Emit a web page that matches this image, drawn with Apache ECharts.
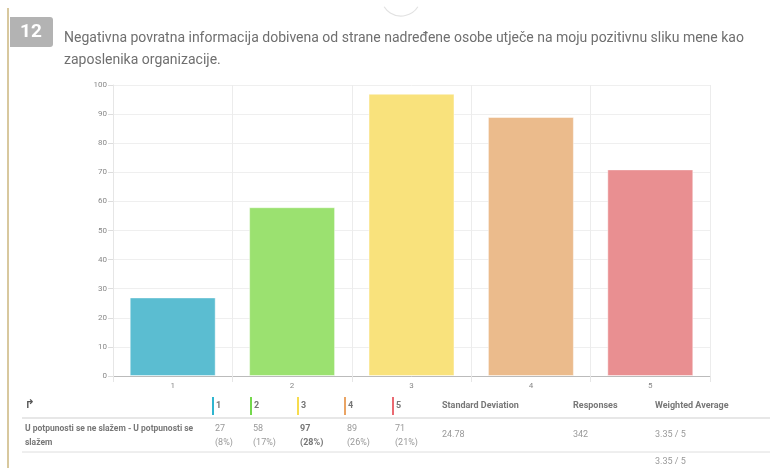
<!DOCTYPE html>
<html>
<head>
<meta charset="utf-8">
<script src="https://cdn.jsdelivr.net/npm/echarts@6/dist/echarts.min.js"></script>
<style>
  html, body { margin: 0; padding: 0; background: #fff; }
  #chart { width: 770px; height: 468px; }
</style>
</head>
<body>
<div id="chart"></div>
<script>
// question data
const questionNo = '12'
const questionText = 'Negativna povratna informacija dobivena od strane nadređene osobe utječe na moju pozitivnu sliku mene kao\nzaposlenika organizacije.'
const rowLabel = 'U potpunosti se ne slažem - U potpunosti se\nslažem'

const categories = ['1', '2', '3', '4', '5']
const counts = [27, 58, 97, 89, 71]
const yTicks = [0, 10, 20, 30, 40, 50, 60, 70, 80, 90, 100]

const barColors = ['#5bbdd1', '#9be170', '#f9e27c', '#ebbb8c', '#e98f91']
const keyColors = ['#2fb5cf', '#74d84c', '#f7dc4e', '#eaa464', '#ea6a72']

// stats
const total = counts.reduce((a, b) => a + b, 0)
const mean = total / counts.length
const stdDev = Math.sqrt(counts.reduce((s, v) => s + (v - mean) * (v - mean), 0) / counts.length)
const weighted = counts.reduce((s, v, i) => s + v * (i + 1), 0) / total
const maxVal = Math.max(...counts)

const font = 'Roboto, "Noto Sans", sans-serif'

let graphic = [
  // gold side line
  { type: 'line', shape: { x1: 8, y1: 8, x2: 8, y2: 468 }, style: { stroke: '#cbb67e', lineWidth: 1.5 } },
  // faint arc top centre
  { type: 'arc', shape: { cx: 401, cy: -4, r: 20, startAngle: Math.PI * 0.18, endAngle: Math.PI * 0.82 }, style: { stroke: '#e2e2e2', lineWidth: 1.2, fill: null } },
  // number badge
  { type: 'rect', shape: { x: 10, y: 17, width: 43, height: 30, r: [0, 3, 3, 0] }, style: { fill: '#b3b3b3' } },
  { type: 'text', x: 31, y: 32, style: { text: questionNo, font: 'bold 19px ' + font, fill: '#fff', align: 'center', verticalAlign: 'middle' } },
  { type: 'text', x: 64, y: 27, style: { text: questionText, font: '14px ' + font, fill: '#6f6f6f', lineHeight: 22 } },
  // table lines
  { type: 'line', shape: { x1: 22, y1: 418, x2: 770, y2: 418 }, style: { stroke: '#cfcfcf', lineWidth: 1 } },
  { type: 'line', shape: { x1: 22, y1: 452, x2: 770, y2: 452 }, style: { stroke: '#dedede', lineWidth: 1 } },
  // swap icon
  { type: 'text', x: 25, y: 405, style: { text: '↱', font: 'bold 12px "DejaVu Sans"', fill: '#555', verticalAlign: 'middle' } },
  { type: 'text', x: 25, y: 422, style: { text: rowLabel, font: 'bold 8.5px ' + font, fill: '#777', lineHeight: 14, verticalAlign: 'top' } }
]

const colX = [212, 250, 297, 344, 392]
categories.forEach((c, i) => {
  graphic.push({ type: 'rect', shape: { x: colX[i], y: 397, width: 2, height: 18 }, style: { fill: keyColors[i] } })
  graphic.push({ type: 'text', x: colX[i] + 4, y: 406, style: { text: c, font: 'bold 9px ' + font, fill: '#777', verticalAlign: 'middle' } })
  const pct = Math.round(counts[i] / total * 100)
  const w = counts[i] === maxVal ? 'bold ' : ''
  graphic.push({ type: 'text', x: colX[i] + 3, y: 422, style: { text: counts[i] + '\n(' + pct + '%)', font: w + '9px ' + font, fill: counts[i] === maxVal ? '#777' : '#999', lineHeight: 14, verticalAlign: 'top' } })
})

const heads = [['Standard Deviation', 442], ['Responses', 573], ['Weighted Average', 655]]
heads.forEach(h => {
  graphic.push({ type: 'text', x: h[1], y: 406, style: { text: h[0], font: 'bold 9px ' + font, fill: '#777', verticalAlign: 'middle' } })
})
const cells = [[stdDev.toFixed(2), 442], [String(total), 573], [weighted.toFixed(2) + ' / 5', 655]]
cells.forEach(c => {
  graphic.push({ type: 'text', x: c[1], y: 435, style: { text: c[0], font: '9px ' + font, fill: '#999', verticalAlign: 'middle' } })
})
graphic.push({ type: 'text', x: 655, y: 462, style: { text: weighted.toFixed(2) + ' / 5', font: '9px ' + font, fill: '#999', verticalAlign: 'middle' } })

const option = {
  backgroundColor: '#fff',
  animation: false,
  grid: { left: 113, right: 60, top: 85, bottom: 92 },
  xAxis: {
    type: 'category',
    data: categories,
    axisLine: { lineStyle: { color: '#bbb', width: 1 } },
    axisTick: { show: true, length: 6, lineStyle: { color: '#e6e6e6' } },
    axisLabel: { color: '#888', fontSize: 8, margin: 6, fontFamily: font },
    splitLine: { show: true, lineStyle: { color: '#ececec' } }
  },
  yAxis: {
    type: 'value',
    min: 0,
    max: yTicks[yTicks.length - 1],
    interval: 10,
    axisLine: { show: true, lineStyle: { color: '#e6e6e6' } },
    axisTick: { show: true, length: 5, lineStyle: { color: '#ddd' } },
    axisLabel: { color: '#888', fontSize: 8, margin: 6, fontFamily: font },
    splitLine: { show: true, lineStyle: { color: '#efefef' } }
  },
  series: [
    {
      type: 'bar',
      barWidth: '72%',
      data: counts.map((v, i) => ({
        value: v,
        itemStyle: { color: barColors[i], borderColor: 'rgba(255,255,255,0.45)', borderWidth: 1 }
      }))
    }
  ],
  graphic: graphic
}

const chart = echarts.init(document.getElementById('chart'))
chart.setOption(option)
</script>
</body>
</html>
